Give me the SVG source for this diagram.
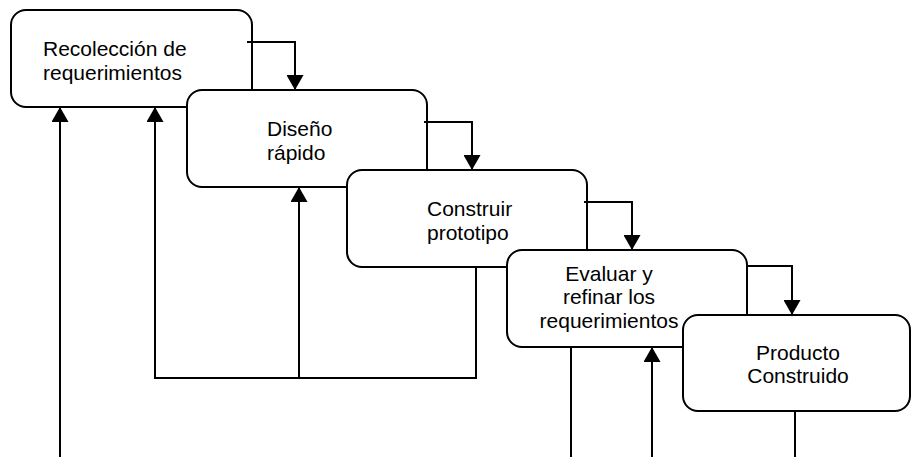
<svg xmlns="http://www.w3.org/2000/svg" width="912" height="457" viewBox="0 0 912 457">
  <style>
    .box { fill: #ffffff; stroke: #000000; stroke-width: 2; }
    .lbl { font-family: "Liberation Sans", Arial, sans-serif; font-size: 21px; fill: #000000; }
    .mid { text-anchor: middle; }
    .wire { fill: none; stroke: #000000; stroke-width: 2; }
    .arrow { marker-end: url(#head); }
  </style>
  <defs>
    <marker id="head" markerUnits="userSpaceOnUse" markerWidth="16" markerHeight="17" refX="15" refY="8.5" orient="auto">
      <path d="M0,0 L15,8.5 L0,17 z" fill="#000000"/>
    </marker>
  </defs>

  <!-- stages, each later one overlapping the previous -->
  <g id="recoleccion">
    <rect class="box" x="11" y="10" width="241" height="97" rx="15" ry="15"/>
    <text class="lbl" x="43" y="56">Recolección de</text>
    <text class="lbl" x="43" y="80">requerimientos</text>
  </g>
  <g id="diseno">
    <rect class="box" x="187" y="90" width="240" height="97" rx="15" ry="15"/>
    <text class="lbl" x="267" y="136">Diseño</text>
    <text class="lbl" x="267" y="160">rápido</text>
  </g>
  <g id="construir">
    <rect class="box" x="347" y="170" width="240" height="97" rx="15" ry="15"/>
    <text class="lbl" x="427" y="216">Construir</text>
    <text class="lbl" x="427" y="240">prototipo</text>
  </g>
  <g id="evaluar">
    <rect class="box" x="507" y="250" width="240" height="97" rx="15" ry="15"/>
    <text class="lbl mid" x="609" y="281">Evaluar y</text>
    <text class="lbl mid" x="609" y="304">refinar los</text>
    <text class="lbl mid" x="609" y="328">requerimientos</text>
  </g>
  <g id="producto">
    <rect class="box" x="683" y="315" width="227" height="96" rx="15" ry="15"/>
    <text class="lbl mid" x="798" y="360">Producto</text>
    <text class="lbl mid" x="798" y="383">Construido</text>
  </g>

  <g id="connectors">
    <!-- forward steps -->
    <path class="wire arrow" d="M247,42 H295 V90"/>
    <path class="wire arrow" d="M424,122 H472 V170"/>
    <path class="wire arrow" d="M584,202 H632 V250"/>
    <path class="wire arrow" d="M746,266 H792 V315"/>
    <!-- feedback loops -->
    <path class="wire arrow" d="M60,457 V107"/>
    <path class="wire arrow" d="M476,267 V378 H155 V107"/>
    <path class="wire arrow" d="M299,378 V187"/>
    <path class="wire" d="M571,347 V457"/>
    <path class="wire arrow" d="M652,457 V347"/>
    <path class="wire" d="M795,411 V457"/>
  </g>
</svg>
